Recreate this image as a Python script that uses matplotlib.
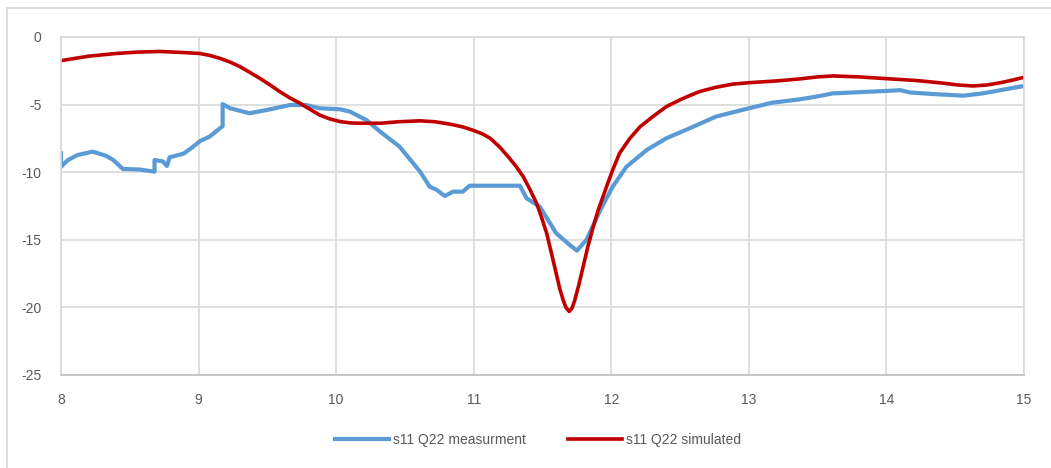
import matplotlib.pyplot as plt
from matplotlib.patches import Rectangle

BLUE = "#5B9BD5"
RED = "#C00000"
GRID = "#D9D9D9"
TEXT = "#595959"

plt.rcParams["font.family"] = ["Liberation Sans", "DejaVu Sans"]
plt.rcParams["axes.unicode_minus"] = False

# measured s11 (stepped trace)
meas_f = [8.0, 8.0, 8.05, 8.12, 8.23, 8.3, 8.33, 8.38, 8.45, 8.57, 8.68, 8.68,
          8.74, 8.77, 8.79, 8.89, 8.95, 9.01, 9.08, 9.155, 9.175, 9.175, 9.228,
          9.37, 9.52, 9.664, 9.78, 9.88, 10.03, 10.1, 10.22, 10.32, 10.46, 10.61,
          10.68, 10.73, 10.79, 10.85, 10.92, 10.97, 11.336, 11.384, 11.48, 11.6,
          11.7, 11.75, 11.82, 11.92, 12.01, 12.11, 12.257, 12.4, 12.57, 12.76,
          13.0, 13.17, 13.37, 13.49, 13.61, 13.98, 14.1, 14.17, 14.34, 14.56,
          14.7, 15.0]
meas_db = [-8.6, -9.6, -9.1, -8.73, -8.48, -8.7, -8.8, -9.1, -9.76, -9.8, -9.96,
           -9.1, -9.2, -9.54, -8.9, -8.63, -8.2, -7.7, -7.37, -6.75, -6.6, -4.96,
           -5.27, -5.64, -5.35, -5.03, -5.03, -5.27, -5.35, -5.52, -6.14, -7.0,
           -8.1, -9.96, -11.07, -11.3, -11.76, -11.44, -11.44, -11.0, -11.0,
           -11.93, -12.55, -14.52, -15.4, -15.8, -15.0, -12.8, -11.07, -9.6,
           -8.36, -7.49, -6.75, -5.89, -5.27, -4.86, -4.61, -4.41, -4.17, -4.0,
           -3.93, -4.1, -4.22, -4.34, -4.17, -3.62]

# simulated s11
sim_f = [8.0, 8.2, 8.4, 8.55, 8.72, 8.87, 9.01, 9.08, 9.155, 9.23, 9.3, 9.37,
         9.446, 9.52, 9.59, 9.66, 9.737, 9.81, 9.88, 9.95, 10.03, 10.1, 10.17,
         10.32, 10.45, 10.61, 10.72, 10.83, 10.92, 10.99, 11.06, 11.12, 11.19,
         11.26, 11.31, 11.36, 11.41, 11.457, 11.495, 11.53, 11.565, 11.6,
         11.625, 11.65, 11.67, 11.694, 11.715, 11.735, 11.765, 11.795, 11.83,
         11.87, 11.905, 11.94, 11.975, 12.01, 12.06, 12.135, 12.21, 12.3, 12.4,
         12.52, 12.64, 12.76, 12.886, 13.0, 13.2, 13.37, 13.5, 13.61, 13.8,
         14.0, 14.22, 14.4, 14.52, 14.63, 14.73, 14.83, 14.92, 15.0]
sim_db = [-1.75, -1.42, -1.22, -1.12, -1.07, -1.14, -1.22, -1.36, -1.58, -1.86,
          -2.19, -2.6, -3.06, -3.55, -4.04, -4.48, -4.9, -5.35, -5.77, -6.05,
          -6.26, -6.35, -6.38, -6.38, -6.27, -6.2, -6.27, -6.45, -6.65, -6.88,
          -7.15, -7.49, -8.15, -8.97, -9.6, -10.33, -11.3, -12.3, -13.4, -14.5,
          -16.0, -17.5, -18.6, -19.45, -20.0, -20.3, -20.05, -19.45, -18.3,
          -17.0, -15.5, -14.0, -12.8, -11.8, -10.8, -9.84, -8.6, -7.5, -6.63,
          -5.9, -5.15, -4.55, -4.04, -3.72, -3.48, -3.38, -3.25, -3.1, -2.95,
          -2.88, -2.95, -3.08, -3.22, -3.4, -3.55, -3.62, -3.55, -3.38, -3.18,
          -2.98]

fig = plt.figure(figsize=(10.51, 4.68), dpi=100)
fig.patches.append(Rectangle((7 / 1051, -0.1), 1.2, 1 - 8 / 468 + 0.1,
                             transform=fig.transFigure, fill=False,
                             edgecolor=GRID, linewidth=1.3))
ax = fig.add_axes([61 / 1051, 1 - 375 / 468, 963 / 1051, 338 / 468])

ax.plot(meas_f, meas_db, color=BLUE, linewidth=3.0, label="s11 Q22 measurment",
        solid_joinstyle="round")
ax.plot(sim_f, sim_db, color=RED, linewidth=2.6, label="s11 Q22 simulated",
        solid_joinstyle="round")

ax.set_xlim(8, 15)
ax.set_ylim(-25, 0)
ax.set_xticks(range(8, 16))
ax.set_yticks(range(-25, 1, 5))
ax.grid(True, color=GRID, linewidth=1.2)
ax.set_axisbelow(True)
for s in ax.spines.values():
    s.set_color(GRID)
    s.set_linewidth(1.2)
ax.spines["bottom"].set_color("#BFBFBF")
ax.tick_params(length=0, labelsize=10, colors=TEXT)
ax.tick_params(axis="x", pad=13)
ax.tick_params(axis="y", pad=14)

leg = fig.legend(loc="center", bbox_to_anchor=(0.512, 1 - 440 / 468), ncol=2,
                 frameon=False, fontsize=10, handlelength=3.9, columnspacing=3.0,
                 handletextpad=0.3)
for t in leg.get_texts():
    t.set_color(TEXT)

fig.savefig("out.png", dpi=100)
